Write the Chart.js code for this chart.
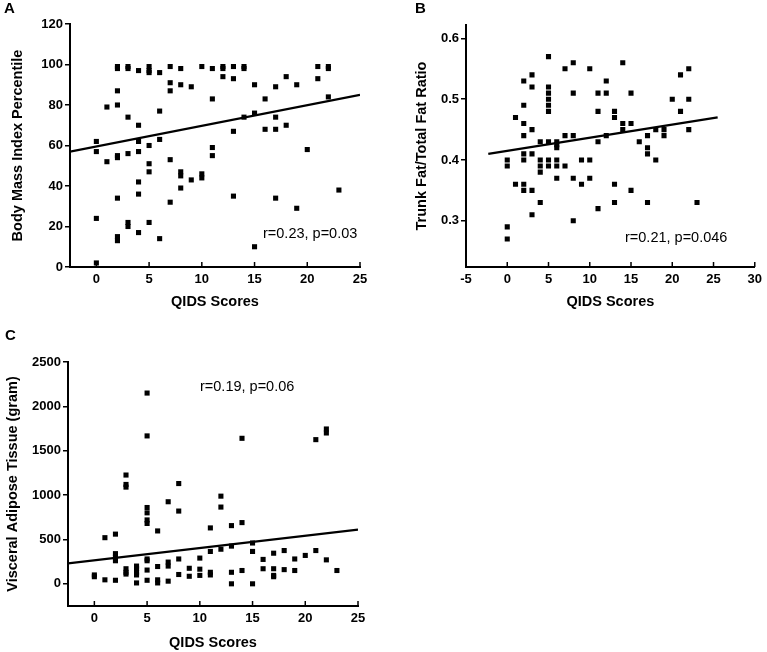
<!DOCTYPE html>
<html><head><meta charset="utf-8">
<script src="https://cdn.jsdelivr.net/npm/chart.js@4/dist/chart.umd.min.js"></script>
<style>
body{margin:0;width:767px;height:652px;background:#fff;position:relative;overflow:hidden;font-family:"Liberation Sans",Arial,sans-serif}
canvas{position:absolute}
.lbl{position:absolute;font-weight:bold;font-size:15px;line-height:16px;color:#000}
.stat{position:absolute;font-size:14.5px;line-height:16px;color:#000;white-space:nowrap}
</style></head><body>
<canvas id="cA" width="380" height="320" style="left:0;top:0"></canvas>
<canvas id="cB" width="363" height="320" style="left:404px;top:0"></canvas>
<canvas id="cC" width="380" height="332" style="left:0;top:320px"></canvas>
<div class="lbl" style="left:4px;top:0px">A</div>
<div class="lbl" style="left:415px;top:0px">B</div>
<div class="lbl" style="left:5px;top:327px">C</div>
<div class="stat" style="left:263px;top:225px">r=0.23, p=0.03</div>
<div class="stat" style="left:625px;top:229px">r=0.21, p=0.046</div>
<div class="stat" style="left:200px;top:378px">r=0.19, p=0.06</div>
<script>
// ---- Panel A: QIDS vs Body Mass Index Percentile ----
const qidsA = [0,0,0,0, 1,1, 2,2,2,2,2,2,2,2,2, 3,3,3,3,3,3, 4,4,4,4,4,4,4, 5,5,5,5,5,5,5, 6,6,6,6, 7,7,7,7,7, 8,8,8,8,8, 9,9, 10,10,10, 11,11,11,11, 12,12,12, 13,13,13,13, 14,14,14, 15,15,15, 16,16, 17,17,17,17, 18,18, 19,19, 20, 21,21, 22,22,22, 23];
const bmiPct = [62,57,24,2, 79,52, 99,98,87,80,55,54,34,15,13, 99,98,74,56,22,20, 97,70,62,57,42,36,17, 99,97,96,60,51,47,22, 96,77,63,14, 99,91,87,53,32, 98,90,47,45,39, 89,43, 99,46,44, 98,83,59,55, 99,98,94, 99,93,67,35, 99,98,74, 90,76,10, 83,68, 89,74,68,34, 94,70, 90,29, 58, 99,93, 99,98,84, 38];
const fitA_x = [-2.5, 25];
const fitA_y = [57, 85];
const xTicksA = [0,5,10,15,20,25];
const yTicksA = [0,20,40,60,80,100,120];

// ---- Panel B: QIDS vs Trunk Fat/Total Fat Ratio ----
const qidsB = [0,0,0,0, 1,1, 2,2,2,2,2,2,2,2, 3,3,3,3,3,3, 4,4,4,4,4, 5,5,5,5,5,5,5,5,5, 6,6,6,6,6,6, 7,7,7, 8,8,8,8,8, 9,9, 10,10,10, 11,11,11,11, 12,12,12, 13,13,13,13, 14,14,14, 15,15,15, 16, 17,17,17,17, 18,18, 19,19, 20, 21,21, 22,22,22, 23];
const trunkRatio = [0.40,0.39,0.29,0.27, 0.47,0.36, 0.53,0.49,0.46,0.44,0.41,0.40,0.36,0.35, 0.54,0.52,0.45,0.41,0.35,0.31, 0.43,0.40,0.39,0.38,0.33, 0.57,0.52,0.51,0.50,0.49,0.48,0.43,0.40,0.39, 0.43,0.425,0.42,0.40,0.39,0.37, 0.55,0.44,0.39, 0.56,0.51,0.44,0.37,0.30, 0.40,0.36, 0.55,0.40,0.37, 0.51,0.48,0.43,0.32, 0.53,0.51,0.44, 0.48,0.47,0.36,0.33, 0.56,0.46,0.45, 0.51,0.46,0.35, 0.43, 0.44,0.42,0.41,0.33, 0.45,0.40, 0.45,0.44, 0.50, 0.54,0.48, 0.55,0.50,0.45, 0.33];
const fitB_x = [-2.3, 25.5];
const fitB_y = [0.41, 0.47];
const xTicksB = [-5,0,5,10,15,20,25,30];
const yTicksB = [0.3,0.4,0.5,0.6];

// ---- Panel C: QIDS vs Visceral Adipose Tissue (gram) ----
const qidsC = [0,0, 1,1, 2,2,2,2,2, 3,3,3,3,3,3, 4,4,4,4,4, 5,5,5,5,5,5,5,5,5,5, 6,6,6,6, 7,7,7,7, 8,8,8,8, 9,9, 10,10,10, 11,11,11,11, 12,12,12, 13,13,13,13, 14,14,14, 15,15,15, 16,16, 17,17,17,17, 18,18, 19,19, 20, 21,21, 22,22,22, 23];
const vatGram = [100,80, 520,45, 560,340,300,260,40, 1226,1120,1090,170,130,110, 200,170,130,100,10, 2150,1667,860,800,720,680,280,260,155,40, 596,195,45,10, 925,245,200,30, 1130,820,280,105, 175,85, 290,165,95, 630,365,130,100, 988,865,390, 656,425,130,0, 1640,690,150, 460,365,0, 275,170, 345,170,95,80, 375,160, 280,150, 320, 1625,375, 1745,1700,270, 150];
const fitC_x = [-2.5, 25];
const fitC_y = [230, 610];
const xTicksC = [0,5,10,15,20,25];
const yTicksC = [0,500,1000,1500,2000,2500];

const FONT = '"Liberation Sans", Arial, sans-serif';

const inwardTicks = {
  id: 'inwardTicks',
  afterDraw(chart) {
    const s = chart.scales.x, ctx = chart.ctx;
    ctx.save();
    ctx.strokeStyle = '#000';
    ctx.lineWidth = 1.5;
    s.ticks.forEach(t => {
      const px = s.getPixelForValue(t.value);
      ctx.beginPath();
      ctx.moveTo(px, s.top);
      ctx.lineTo(px, s.top - 5);
      ctx.stroke();
    });
    ctx.restore();
  }
};

function pairs(xs, ys) { return xs.map((x, i) => ({x: x, y: ys[i]})); }

function makePanel(id, cfg) {
  new Chart(document.getElementById(id), {
    type: 'scatter',
    data: {
      datasets: [
        {
          data: pairs(cfg.px, cfg.py),
          pointStyle: 'rect',
          pointRadius: 3.6,
          pointBackgroundColor: '#000',
          pointBorderWidth: 0,
          showLine: false
        },
        {
          data: pairs(cfg.lx, cfg.ly),
          showLine: true,
          borderColor: '#000',
          borderWidth: 2.2,
          pointRadius: 0,
          fill: false
        }
      ]
    },
    options: {
      responsive: false,
      animation: false,
      events: [],
      layout: { padding: cfg.pad },
      plugins: { legend: { display: false }, tooltip: { enabled: false } },
      scales: {
        x: {
          type: 'linear',
          min: cfg.xmin, max: cfg.xmax,
          afterBuildTicks: s => { s.ticks = cfg.xt.map(v => ({value: v})); },
          afterFit: s => { s.height = cfg.xh; },
          grid: { display: false, drawTicks: false },
          border: { display: true, color: '#000', width: 2 },
          ticks: { color: '#000', padding: 5, maxRotation: 0, font: { family: FONT, size: 13, weight: 'bold' }, callback: v => String(v) },
          title: { display: true, text: 'QIDS Scores', color: '#000', font: { family: FONT, size: 14.5, weight: 'bold' }, padding: { top: 0, bottom: cfg.xtp } }
        },
        y: {
          type: 'linear',
          min: cfg.ymin, max: cfg.ymax,
          afterBuildTicks: s => { s.ticks = cfg.yt.map(v => ({value: v})); },
          afterFit: s => { s.width = cfg.yw; },
          grid: { display: true, drawOnChartArea: false, drawTicks: true, tickLength: 5, color: '#000', lineWidth: 1.5 },
          border: { display: true, color: '#000', width: 2 },
          ticks: { color: '#000', padding: 2, font: { family: FONT, size: 13, weight: 'bold' }, callback: cfg.yfmt },
          title: { display: true, text: cfg.ytitle, color: '#000', font: { family: FONT, size: 14.5, weight: 'bold' }, padding: { top: cfg.ytp, bottom: 0 } }
        }
      }
    },
    plugins: [inwardTicks]
  });
}

makePanel('cA', {
  px: qidsA, py: bmiPct, lx: fitA_x, ly: fitA_y,
  xmin: -2.5, xmax: 25, ymin: 0, ymax: 120, xt: xTicksA, yt: yTicksA,
  pad: { left: 0, top: 24, right: 20, bottom: 0 }, xh: 53, yw: 70, xtp: 9.6, ytp: 9.6,
  ytitle: 'Body Mass Index Percentile', yfmt: v => String(v)
});
makePanel('cB', {
  px: qidsB, py: trunkRatio, lx: fitB_x, ly: fitB_y,
  xmin: -5, xmax: 30, ymin: 0.224, ymax: 0.622, xt: xTicksB, yt: yTicksB,
  pad: { left: 0, top: 25, right: 10, bottom: 0 }, xh: 53, yw: 62, xtp: 9.6, ytp: 9.1,
  ytitle: 'Trunk Fat/Total Fat Ratio', yfmt: v => Number(v).toFixed(1)
});
makePanel('cC', {
  px: qidsC, py: vatGram, lx: fitC_x, ly: fitC_y,
  xmin: -2.5, xmax: 25, ymin: -250, ymax: 2500, xt: xTicksC, yt: yTicksC,
  pad: { left: 0, top: 42, right: 22, bottom: 0 }, xh: 46, yw: 68, xtp: 0.5, ytp: 4.1,
  ytitle: 'Visceral Adipose Tissue (gram)', yfmt: v => String(v)
});
</script>
</body></html>
